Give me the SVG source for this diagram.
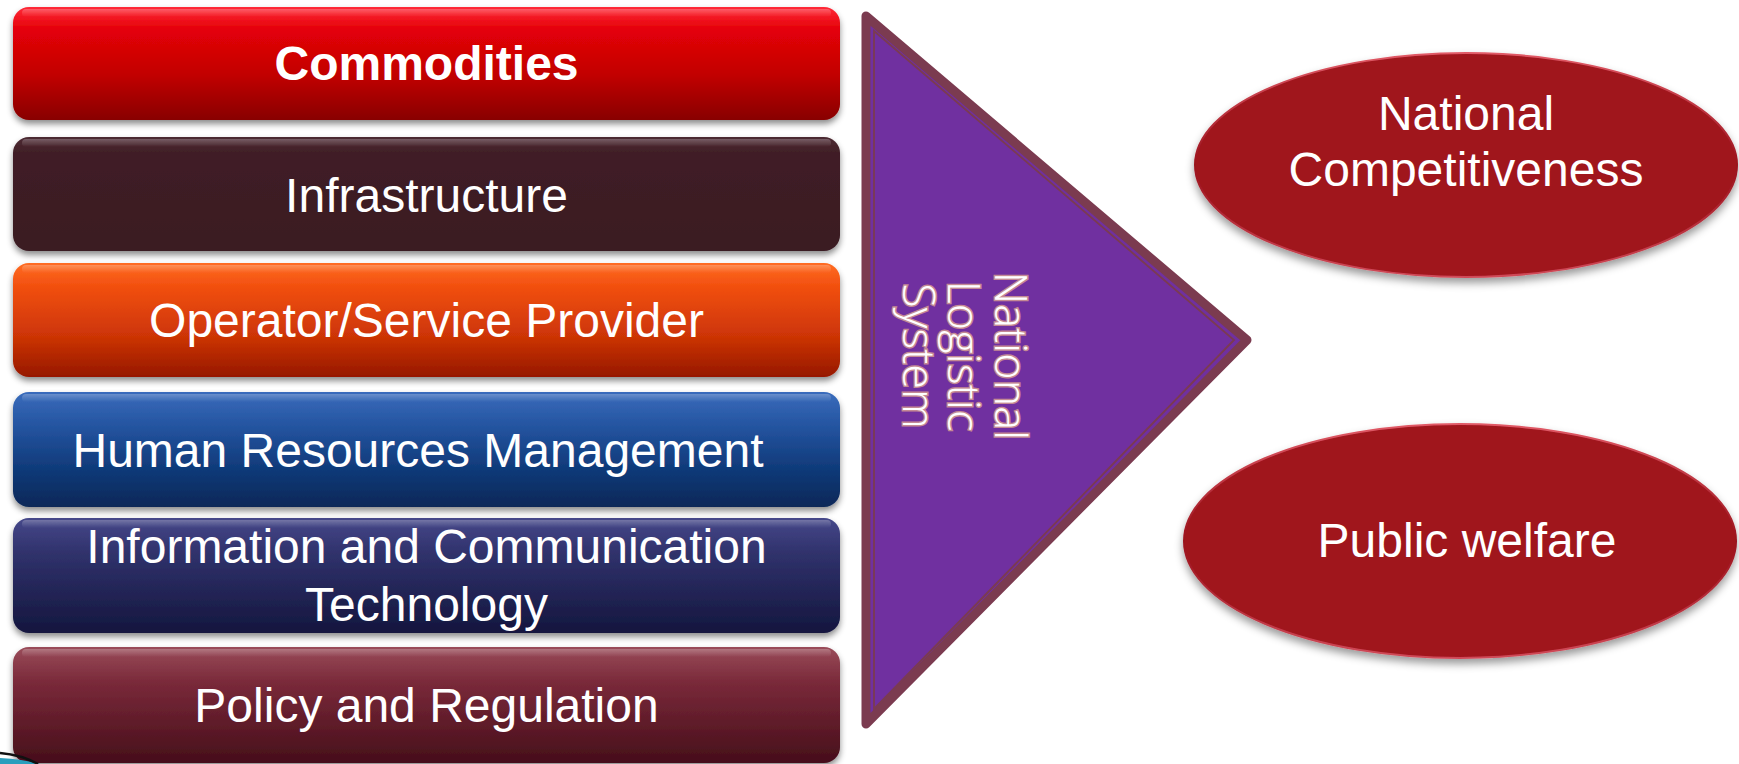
<svg xmlns="http://www.w3.org/2000/svg" width="1739" height="764" viewBox="0 0 1739 764">
<style>
.lbl{font-family:"Liberation Sans",Arial,sans-serif;font-size:48px;fill:#fff;text-anchor:middle}
.b{font-weight:bold}
.tri{font-family:"Open Sans","Noto Sans",sans-serif;font-size:45px;font-weight:300;fill:#fff;stroke:#c48a94;stroke-width:3;paint-order:stroke;text-anchor:middle}
.gloss{fill:url(#gl)}
</style>
<defs>
<filter id="sh" x="-5%" y="-20%" width="110%" height="150%">
<feDropShadow dx="0" dy="4" stdDeviation="3" flood-color="#000" flood-opacity="0.45"/>
</filter>
<filter id="esh" x="-10%" y="-10%" width="120%" height="130%">
<feDropShadow dx="0" dy="5" stdDeviation="4" flood-color="#000" flood-opacity="0.4"/>
</filter>
<linearGradient id="g1" x1="0" y1="0" x2="0" y2="1"><stop offset="0" stop-color="#ff2a38"/><stop offset="0.2" stop-color="#e40008"/><stop offset="0.6" stop-color="#c20002"/><stop offset="1" stop-color="#880000"/></linearGradient>
<linearGradient id="g2" x1="0" y1="0" x2="0" y2="1"><stop offset="0" stop-color="#4c2a32"/><stop offset="0.15" stop-color="#401e26"/><stop offset="1" stop-color="#3a1a22"/></linearGradient>
<linearGradient id="g3" x1="0" y1="0" x2="0" y2="1"><stop offset="0" stop-color="#ff6c22"/><stop offset="0.2" stop-color="#f25010"/><stop offset="0.65" stop-color="#cc3406"/><stop offset="1" stop-color="#961800"/></linearGradient>
<linearGradient id="g4" x1="0" y1="0" x2="0" y2="1"><stop offset="0" stop-color="#3a6cbc"/><stop offset="0.3" stop-color="#2454a0"/><stop offset="0.7" stop-color="#0e3876"/><stop offset="1" stop-color="#0a2858"/></linearGradient>
<linearGradient id="g5" x1="0" y1="0" x2="0" y2="1"><stop offset="0" stop-color="#46488a"/><stop offset="0.3" stop-color="#30326c"/><stop offset="1" stop-color="#14163e"/></linearGradient>
<linearGradient id="g6" x1="0" y1="0" x2="0" y2="1"><stop offset="0" stop-color="#9a4c5a"/><stop offset="0.3" stop-color="#7a2a3a"/><stop offset="1" stop-color="#460e1a"/></linearGradient>
<linearGradient id="gl" x1="0" y1="0" x2="0" y2="1"><stop offset="0" stop-color="#fff" stop-opacity="0.25"/><stop offset="1" stop-color="#fff" stop-opacity="0"/></linearGradient>
<linearGradient id="erim" x1="0" y1="0" x2="0" y2="1"><stop offset="0" stop-color="#e05a66"/><stop offset="0.5" stop-color="#9a121c"/><stop offset="1" stop-color="#d04a58"/></linearGradient>
</defs>

<g id="connectors"></g>

<g id="commodities">
<rect x="13" y="7" width="827" height="113" rx="16" fill="url(#g1)" filter="url(#sh)"/>
<rect x="22" y="9" width="809" height="8" rx="4" class="gloss"/>
<text class="lbl b" x="426.5" y="80">Commodities</text>
</g>
<g id="infrastructure">
<rect x="13" y="137" width="827" height="114" rx="16" fill="url(#g2)" filter="url(#sh)"/>
<rect x="22" y="139" width="809" height="8" rx="4" class="gloss"/>
<text class="lbl" x="426.5" y="212">Infrastructure</text>
</g>
<g id="operator">
<rect x="13" y="263" width="827" height="114" rx="16" fill="url(#g3)" filter="url(#sh)"/>
<rect x="22" y="265" width="809" height="8" rx="4" class="gloss"/>
<text class="lbl" x="426.5" y="337">Operator/Service Provider</text>
</g>
<g id="hrm">
<rect x="13" y="392" width="827" height="115" rx="16" fill="url(#g4)" filter="url(#sh)"/>
<rect x="22" y="394" width="809" height="8" rx="4" class="gloss"/>
<text class="lbl" x="418" y="467">Human Resources Management</text>
</g>
<g id="ict">
<rect x="13" y="518" width="827" height="115" rx="16" fill="url(#g5)" filter="url(#sh)"/>
<rect x="22" y="520" width="809" height="8" rx="4" class="gloss"/>
<text class="lbl" x="426.5" y="563">Information and Communication</text>
<text class="lbl" x="426.5" y="621">Technology</text>
</g>
<g id="policy">
<rect x="13" y="647" width="827" height="116" rx="16" fill="url(#g6)" filter="url(#sh)"/>
<rect x="22" y="649" width="809" height="8" rx="4" class="gloss"/>
<text class="lbl" x="426.5" y="722">Policy and Regulation</text>
</g>

<g id="corner-deco">
<path d="M0,764 L0,758 Q22,759 40,764 Z" fill="#2a9fbd"/>
<path d="M0,753 Q22,755 38,764" fill="none" stroke="#111" stroke-width="2.5"/>
</g>

<g id="national-logistic-system">
<polygon points="866,16 1247,340 866,724" fill="#7030a0" stroke="#7b3b50" stroke-width="9" stroke-linejoin="round"/>
<polygon points="874,31 1234,340 874,709" fill="none" stroke="#7b3b50" stroke-width="1.8"/>
<g transform="translate(995,356) rotate(90)">
<text class="tri" x="0" y="0">National</text>
<text class="tri" x="0" y="47">Logistic</text>
<text class="tri" x="0" y="92">System</text>
</g>
</g>

<g id="national-competitiveness">
<ellipse cx="1466" cy="165" rx="271" ry="112" fill="#a0141e" stroke="url(#erim)" stroke-width="2" filter="url(#esh)"/>
<text class="lbl" x="1466" y="130">National</text>
<text class="lbl" x="1466" y="186">Competitiveness</text>
</g>
<g id="public-welfare">
<ellipse cx="1460" cy="541" rx="276" ry="117" fill="#a0141e" stroke="url(#erim)" stroke-width="2" filter="url(#esh)"/>
<text class="lbl" x="1467" y="557">Public welfare</text>
</g>
</svg>
